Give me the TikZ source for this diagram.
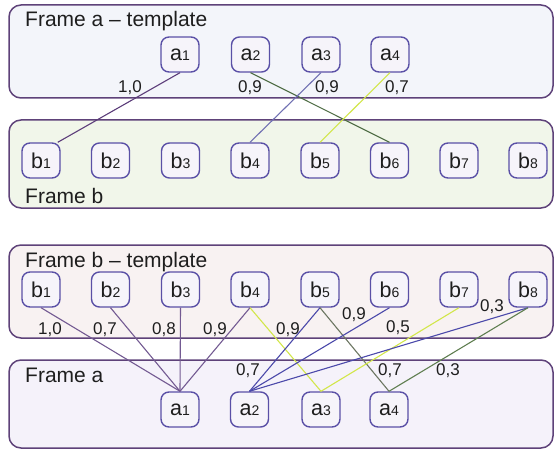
\documentclass[tikz,border=0pt]{standalone}
\usepackage{fontspec}
\setmainfont{Liberation Sans}
\usetikzlibrary{calc}

\definecolor{ink}{HTML}{1E1E1E}
\definecolor{frameline}{HTML}{5E4279}
\definecolor{boxline}{HTML}{5A50A6}
\definecolor{boxfill}{HTML}{F6F4FA}
\definecolor{fillA}{HTML}{F3F5FA}
\definecolor{fillB}{HTML}{F1F6EA}
\definecolor{fillC}{HTML}{F8F2F2}
\definecolor{fillD}{HTML}{F5F2FA}
\definecolor{lpurple}{HTML}{5C3D7A}
\definecolor{lmauve}{HTML}{735A92}
\definecolor{lgreen}{HTML}{4F6D45}
\definecolor{lslate}{HTML}{7070B2}
\definecolor{lyellow}{HTML}{D2E64A}
\definecolor{lblue}{HTML}{4B49AA}
\definecolor{lgrey}{HTML}{6C7662}
\definecolor{lolive}{HTML}{5F7E50}

\newcommand{\nodeidx}[1]{{\fontsize{14}{14}\selectfont #1}}

\begin{document}
\begin{tikzpicture}[x=1pt, y=-1pt,
  frame/.style={draw=frameline, line width=1.5pt, rounded corners=12pt},
  box/.style={draw=boxline, fill=boxfill, line width=1.4pt, rounded corners=8pt,
    minimum width=38pt, minimum height=35pt, inner sep=0pt, text=ink,
    font=\fontsize{21.5}{21.5}\selectfont},
  title/.style={anchor=base west, text=ink, inner sep=0pt,
    font=\fontsize{21}{21}\selectfont},
  weight/.style={text=ink, inner sep=0pt, font=\fontsize{17}{17}\selectfont},
  link/.style={line width=1.1pt},
]
\useasboundingbox (0,0) rectangle (555,452);

% the four frames
\draw[frame, fill=fillA] (9,5)   rectangle (553,98);
\draw[frame, fill=fillB] (9,120) rectangle (553,208);
\draw[frame, fill=fillC] (9,245) rectangle (553,338);
\draw[frame, fill=fillD] (9,360) rectangle (553,448);

\node[title] (tA) at (25,27)  {Frame a -- template};
\node[title] (tB) at (25,203) {Frame b};
\node[title] (tC) at (25,267) {Frame b -- template};
\node[title] (tD) at (25,382) {Frame a};

% frame a template
\node[box] (ta1) at (180,54.5)   {a\nodeidx{1}};
\node[box] (ta2) at (250.5,54.5) {a\nodeidx{2}};
\node[box] (ta3) at (321,54.5)   {a\nodeidx{3}};
\node[box] (ta4) at (390,54.5)   {a\nodeidx{4}};

% frame b and frame b template
\foreach \i/\x in {1/41,2/110.5,3/180.5,4/250,5/320,6/389.5,7/459,8/528}{
  \node[box] (fb\i) at (\x,160.5) {b\nodeidx{\i}};
  \node[box] (tb\i) at (\x,289.5) {b\nodeidx{\i}};
}

% frame a
\node[box] (fa1) at (180,409.5)   {a\nodeidx{1}};
\node[box] (fa2) at (249.5,409.5) {a\nodeidx{2}};
\node[box] (fa3) at (321,409.5)   {a\nodeidx{3}};
\node[box] (fa4) at (389,409.5)   {a\nodeidx{4}};

% matches from the a template into frame b
\coordinate (fb1end) at ($(fb1.north)!0.85!(fb1.north east)$);
\draw[link, lpurple] (ta1.south) -- (fb1end);
\draw[link, lgreen]  (ta2.south) -- (fb6.north);
\draw[link, lslate]  (ta3.south) -- (fb4.north);
\draw[link, lyellow] (ta4.south) -- (fb5.north);

\node[weight] (w1) at (130,87.5) {1,0};
\node[weight] (w2) at (250,87.5) {0,9};
\node[weight] (w3) at (327,87.5) {0,9};
\node[weight] (w4) at (397,87.5) {0,7};

% matches from the b template into frame a
\draw[link, lmauve]  (tb1.south) -- (fa1.north);
\draw[link, lmauve]  (tb2.south) -- (fa1.north);
\draw[link, lmauve]  (tb3.south) -- (fa1.north);
\draw[link, lmauve]  (tb4.south) -- (fa1.north);
\draw[link, lyellow] (tb4.south) -- (fa3.north);
\draw[link, lblue]   (tb5.south) -- (fa2.north);
\draw[link, lgrey]   (tb5.south) -- (fa4.north);
\draw[link, lblue]   (tb6.south) -- (fa2.north);
\draw[link, lyellow] (tb7.south) -- (fa3.north);
\draw[link, lblue]   (tb8.south) -- (fa2.north);
\draw[link, lolive]  (tb8.south) -- (fa4.north);

\node[weight] (v1)  at (50,330)  {1,0};
\node[weight] (v2)  at (105,330) {0,7};
\node[weight] (v3)  at (164,330) {0,8};
\node[weight] (v4)  at (215,330) {0,9};
\node[weight] (v5)  at (288,330) {0,9};
\node[weight] (v6)  at (354,315) {0,9};
\node[weight] (v7)  at (398,328) {0,5};
\node[weight] (v8)  at (492,307) {0,3};
\node[weight] (v9)  at (248,371) {0,7};
\node[weight] (v10) at (390,371) {0,7};
\node[weight] (v11) at (448,371) {0,3};
\end{tikzpicture}
\end{document}
